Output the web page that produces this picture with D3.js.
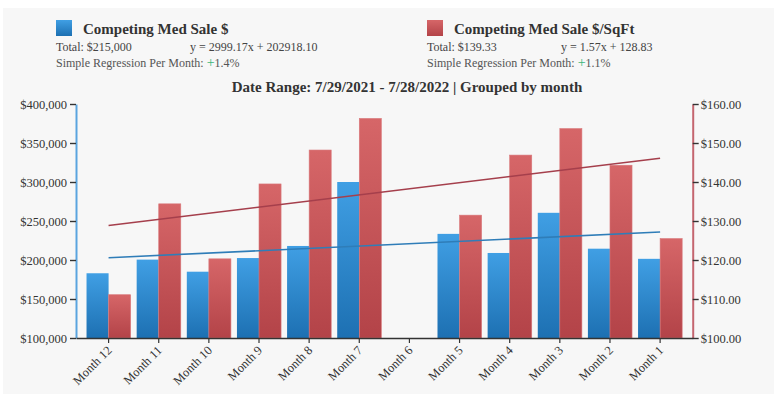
<!DOCTYPE html>
<html>
<head>
<meta charset="utf-8">
<script src="https://cdn.jsdelivr.net/npm/d3@7"></script>
<style>
  html, body { margin: 0; padding: 0; background: #ffffff; }
  svg { display: block; }
  text { font-family: "Liberation Serif", "Times New Roman", serif; }
</style>
</head>
<body>
<svg id="chart" width="774" height="394"></svg>
<script>
const categories = ["Month 12", "Month 11", "Month 10", "Month 9", "Month 8", "Month 7",
                    "Month 6", "Month 5", "Month 4", "Month 3", "Month 2", "Month 1"];
const salePrice = [183000, 200500, 185000, 202500, 218000, 300000, null, 233500, 209000, 260500, 214500, 201500];
const pricePerSqft = [111.1, 134.4, 120.3, 139.5, 148.2, 156.3, null, 131.5, 146.9, 153.7, 144.3, 125.5];
const saleTrend = [2999.17, 202918.10];   // slope, intercept
const sqftTrend = [1.57, 128.83];         // slope, intercept
const leftTicks = [100000, 150000, 200000, 250000, 300000, 350000, 400000];
const rightTicks = [100, 110, 120, 130, 140, 150, 160];
const seriesNames = ["Competing Med Sale $", "Competing Med Sale $/SqFt"];
const totals = ["Total: $215,000", "Total: $139.33"];
const equations = ["y = 2999.17x + 202918.10", "y = 1.57x + 128.83"];
const regressionPct = ["1.4%", "1.1%"];
const titleText = "Date Range: 7/29/2021 - 7/28/2022 | Grouped by month";

const svg = d3.select("#chart");
const W = 774, H = 394;
const plot = { left: 76, right: 692.7, top: 104, bottom: 338 };

// panel background
svg.append("rect").attr("x", 3).attr("y", 8).attr("width", W - 3).attr("height", H - 8).attr("fill", "#f7f7f7");

const defs = svg.append("defs");
const gb = defs.append("linearGradient").attr("id", "gBlue").attr("x1", 0).attr("y1", 0).attr("x2", 0).attr("y2", 1);
gb.append("stop").attr("offset", "0%").attr("stop-color", "#409fe4");
gb.append("stop").attr("offset", "100%").attr("stop-color", "#1d70b2");
const gr = defs.append("linearGradient").attr("id", "gRed").attr("x1", 0).attr("y1", 0).attr("x2", 0).attr("y2", 1);
gr.append("stop").attr("offset", "0%").attr("stop-color", "#d66668");
gr.append("stop").attr("offset", "100%").attr("stop-color", "#b34348");

const x = d3.scaleBand().domain(categories).range([plot.left, plot.right]).paddingInner(0.12).paddingOuter(0.21);
const yL = d3.scaleLinear().domain([100000, 400000]).range([plot.bottom, plot.top]);
const yR = d3.scaleLinear().domain([100, 160]).range([plot.bottom, plot.top]);
const bw = x.bandwidth() / 2;

// bars
const gBars = svg.append("g");
categories.forEach((c, i) => {
  if (salePrice[i] != null) {
    gBars.append("rect").attr("x", x(c)).attr("y", yL(salePrice[i]))
      .attr("width", bw).attr("height", plot.bottom - yL(salePrice[i])).attr("fill", "url(#gBlue)");
  }
  if (pricePerSqft[i] != null) {
    gBars.append("rect").attr("x", x(c) + bw).attr("y", yR(pricePerSqft[i]))
      .attr("width", bw).attr("height", plot.bottom - yR(pricePerSqft[i])).attr("fill", "url(#gRed)")
      .attr("stroke", "#d9787b").attr("stroke-width", 0.6);
  }
});

// trend lines
const cx = c => x(c) + x.bandwidth() / 2;
const n = categories.length;
svg.append("line")
  .attr("x1", cx(categories[0])).attr("y1", yR(sqftTrend[1]))
  .attr("x2", cx(categories[n - 1])).attr("y2", yR(sqftTrend[0] * (n - 1) + sqftTrend[1]))
  .attr("stroke", "#a53f4c").attr("stroke-width", 1.6);
svg.append("line")
  .attr("x1", cx(categories[0])).attr("y1", yL(saleTrend[1]))
  .attr("x2", cx(categories[n - 1])).attr("y2", yL(saleTrend[0] * (n - 1) + saleTrend[1]))
  .attr("stroke", "#2f7db8").attr("stroke-width", 1.6);

// axes
const fmtL = d => "$" + d3.format(",")(d);
const fmtR = d => "$" + d3.format(".2f")(d);
const axL = svg.append("g").attr("transform", `translate(${plot.left},0)`)
  .call(d3.axisLeft(yL).tickValues(leftTicks).tickFormat(fmtL).tickSize(6).tickSizeOuter(0));
axL.select(".domain").attr("stroke", "#5aa4df").attr("stroke-width", 2);
axL.selectAll(".tick line").attr("stroke", "#333").attr("stroke-width", 1.4);
axL.selectAll(".tick text").attr("fill", "#333").style("font-size", "12.5px").attr("x", -9);

const axR = svg.append("g").attr("transform", `translate(${plot.right},0)`)
  .call(d3.axisRight(yR).tickValues(rightTicks).tickFormat(fmtR).tickSize(6).tickSizeOuter(0));
axR.select(".domain").attr("stroke", "#c4656f").attr("stroke-width", 2);
axR.selectAll(".tick line").attr("stroke", "#333").attr("stroke-width", 1.4);
axR.selectAll(".tick text").attr("fill", "#333").style("font-size", "12.5px").attr("x", 8);

const axB = svg.append("g").attr("transform", `translate(0,${plot.bottom})`)
  .call(d3.axisBottom(x).tickSize(5).tickSizeOuter(0));
axB.select(".domain").attr("stroke", "#333").attr("stroke-width", 1.6);
axB.selectAll(".tick line").attr("stroke", "#333").attr("stroke-width", 1.2);
axB.selectAll(".tick text").attr("fill", "#333").style("font-size", "12.5px")
  .attr("text-anchor", "end").attr("y", 0).attr("dy", 0)
  .attr("transform", "translate(4,13) rotate(-45)");

// legends
const legendX = [56, 427];
const colors = ["url(#gBlue)", "url(#gRed)"];
seriesNames.forEach((name, k) => {
  const lx = legendX[k];
  svg.append("rect").attr("x", lx).attr("y", 20).attr("width", 16).attr("height", 16).attr("fill", colors[k]);
  svg.append("text").attr("x", lx + 27).attr("y", 34).text(name)
    .attr("fill", "#333").style("font-size", "15px").style("font-weight", "bold");
  svg.append("text").attr("x", lx).attr("y", 50.5).text(totals[k]).attr("fill", "#444").style("font-size", "12px");
  svg.append("text").attr("x", lx + 134).attr("y", 50.5).text(equations[k]).attr("fill", "#444").style("font-size", "12px");
  const t = svg.append("text").attr("x", lx).attr("y", 66.5).attr("fill", "#555").style("font-size", "12px");
  t.append("tspan").text("Simple Regression Per Month: ");
  t.append("tspan").text("+").attr("fill", "#3cb67a").style("font-size", "14px");
  t.append("tspan").text(regressionPct[k]);
});

svg.append("text").attr("x", 407).attr("y", 92).attr("text-anchor", "middle").text(titleText)
  .attr("fill", "#333").style("font-size", "15px").style("font-weight", "bold");
</script>
</body>
</html>
